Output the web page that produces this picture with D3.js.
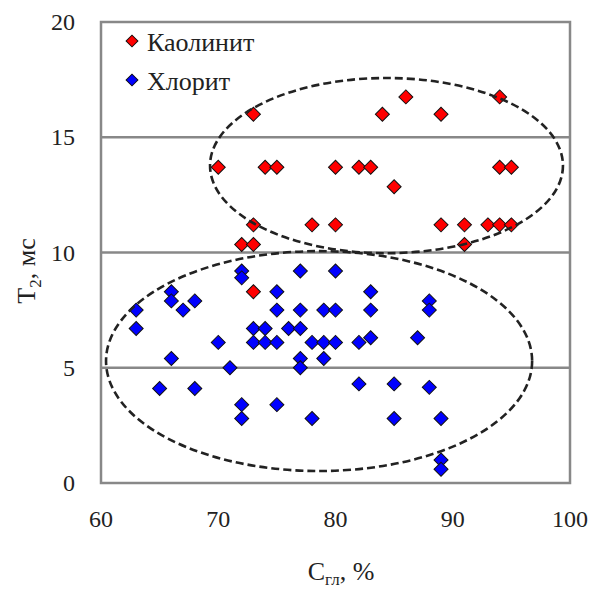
<!DOCTYPE html>
<html>
<head>
<meta charset="utf-8">
<script src="https://cdn.jsdelivr.net/npm/d3@7"></script>
<style>
  body { margin: 0; background: #fff; }
</style>
</head>
<body>
<svg id="chart" width="593" height="590" font-family="'Liberation Serif', 'Times New Roman', 'DejaVu Serif', serif"></svg>
<script>
// Kaolinite points (C, %; T2, ms)
const kaolinitX = [73, 70, 74, 75, 80, 73, 78, 80, 72, 73, 73, 86, 84, 89, 94, 82, 83, 85, 94, 95, 89, 91, 93, 94, 95, 91];
const kaolinitY = [16, 13.7, 13.7, 13.7, 13.7, 11.2, 11.2, 11.2, 10.35, 10.35, 8.3, 16.75, 16, 16, 16.75, 13.7, 13.7, 12.85, 13.7, 13.7, 11.2, 11.2, 11.2, 11.2, 11.2, 10.35];

// Chlorite points
const chloritX = [72, 72, 77, 80, 75, 66, 66, 68, 67, 63, 63, 75, 77, 79, 80, 73, 74, 76, 77, 70, 73, 74, 75, 78, 79, 80, 66, 77, 79, 71, 77, 65, 68, 72, 75, 72, 78, 83, 83, 88, 88, 82, 83, 87, 82, 85, 88, 85, 89, 89, 89];
const chloritY = [9.2, 8.9, 9.2, 9.2, 8.3, 8.3, 7.9, 7.9, 7.5, 7.5, 6.7, 7.5, 7.5, 7.5, 7.5, 6.7, 6.7, 6.7, 6.7, 6.1, 6.1, 6.1, 6.1, 6.1, 6.1, 6.1, 5.4, 5.4, 5.4, 5.0, 5.0, 4.1, 4.1, 3.4, 3.4, 2.8, 2.8, 8.3, 7.5, 7.9, 7.5, 6.1, 6.3, 6.3, 4.3, 4.3, 4.15, 2.8, 2.8, 1.0, 0.6];

const xTicks = [60, 70, 80, 90, 100];
const yTicks = [0, 5, 10, 15, 20];

// Dashed cluster outlines: [centerX, centerY, radiusX, radiusY] in data units
const clusterUpper = [84.35, 13.77, 15.05, 3.8];
const clusterLower = [78.6, 5.29, 18.17, 4.77];

const seriesNames = ["Каолинит", "Хлорит"];
const seriesColors = ["#ff0000", "#0000ff"];

const svg = d3.select("#chart");
const margin = { left: 101, right: 23, top: 22, bottom: 107 };
const width = 593, height = 590;

const x = d3.scaleLinear().domain([60, 100]).range([margin.left, width - margin.right]);
const y = d3.scaleLinear().domain([0, 20]).range([height - margin.bottom, margin.top]);

// gridlines
svg.append("g")
    .selectAll("line")
    .data(yTicks.filter(d => d > 0 && d < 20))
    .join("line")
    .attr("x1", x(60)).attr("x2", x(100))
    .attr("y1", d => y(d)).attr("y2", d => y(d))
    .attr("stroke", "#888").attr("stroke-width", 2.5);

// frame
svg.append("rect")
    .attr("x", x(60)).attr("y", y(20))
    .attr("width", x(100) - x(60)).attr("height", y(0) - y(20))
    .attr("fill", "none").attr("stroke", "#888").attr("stroke-width", 2.5);

// tick labels
svg.append("g")
    .selectAll("text")
    .data(yTicks)
    .join("text")
    .attr("x", 75).attr("y", d => y(d) + 8)
    .attr("text-anchor", "end")
    .attr("fill", "#222")
    .style("font-size", "24px")
    .text(d => d);

svg.append("g")
    .selectAll("text")
    .data(xTicks)
    .join("text")
    .attr("x", d => x(d)).attr("y", 527)
    .attr("text-anchor", "middle")
    .attr("fill", "#222")
    .style("font-size", "24px")
    .text(d => d);

// axis titles
const yTitle = svg.append("text")
    .attr("transform", "translate(35,271) rotate(-90)")
    .attr("text-anchor", "middle")
    .attr("fill", "#222")
    .style("font-size", "26px");
yTitle.append("tspan").text("T");
yTitle.append("tspan").attr("dy", 6).style("font-size", "17px").text("2");
yTitle.append("tspan").attr("dy", -6).text(", мс");

const xTitle = svg.append("text")
    .attr("x", 341).attr("y", 580)
    .attr("text-anchor", "middle")
    .attr("fill", "#222")
    .style("font-size", "26px");
xTitle.append("tspan").text("C");
xTitle.append("tspan").attr("dy", 5).style("font-size", "17px").text("гл");
xTitle.append("tspan").attr("dy", -5).text(", %");

// markers
const diamond = d3.symbol().type(d3.symbolSquare).size(98);

function drawSeries(xs, ys, color) {
    svg.append("g")
        .selectAll("path")
        .data(xs.map((v, i) => [v, ys[i]]))
        .join("path")
        .attr("d", diamond)
        .attr("transform", d => `translate(${x(d[0])},${y(d[1])}) rotate(45)`)
        .attr("fill", color)
        .attr("stroke", "#111").attr("stroke-width", 1);
}
drawSeries(kaolinitX, kaolinitY, seriesColors[0]);
drawSeries(chloritX, chloritY, seriesColors[1]);

// dashed ellipses (drawn over the markers, as in the original)
svg.append("g")
    .selectAll("ellipse")
    .data([clusterUpper, clusterLower])
    .join("ellipse")
    .attr("cx", d => x(d[0])).attr("cy", d => y(d[1]))
    .attr("rx", d => x(d[0] + d[2]) - x(d[0]))
    .attr("ry", d => y(d[1] - d[3]) - y(d[1]))
    .attr("fill", "none")
    .attr("stroke", "#222").attr("stroke-width", 2.6)
    .attr("stroke-dasharray", "8,4");

// legend
const legendSymbol = d3.symbol().type(d3.symbolSquare).size(70);
const legend = svg.append("g")
    .selectAll("g")
    .data(seriesNames)
    .join("g")
    .attr("transform", (d, i) => `translate(132,${41 + i * 39})`);
legend.append("path")
    .attr("d", legendSymbol)
    .attr("transform", "rotate(45)")
    .attr("fill", (d, i) => seriesColors[i])
    .attr("stroke", "#111").attr("stroke-width", 1);
legend.append("text")
    .attr("x", 15).attr("y", 10)
    .attr("fill", "#222")
    .style("font-size", "26px")
    .text(d => d);
</script>
</body>
</html>
